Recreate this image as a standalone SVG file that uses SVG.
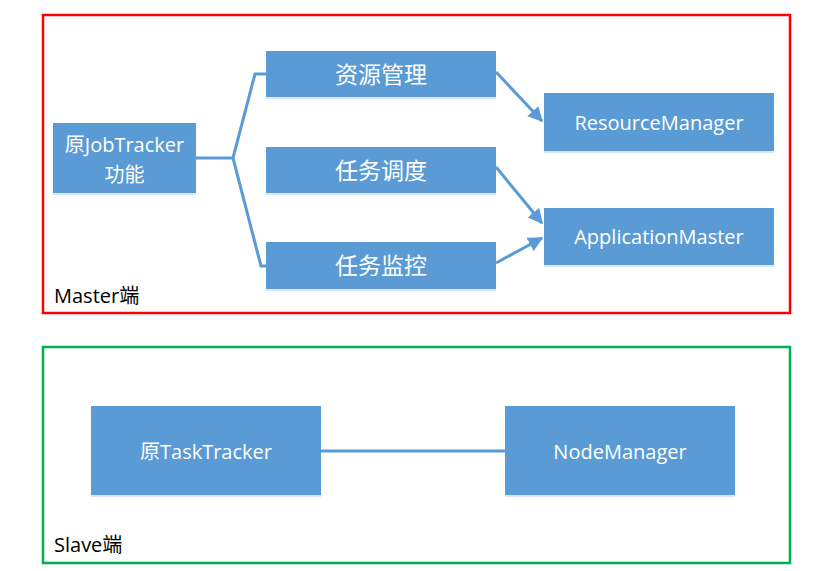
<svg xmlns="http://www.w3.org/2000/svg" width="831" height="571" viewBox="0 0 831 571">
<style>
.box{fill:#5B9BD5}
.sh{fill:#DCE6F2}
.t{fill:#fff;font-family:"Open Sans","Noto Sans CJK SC",sans-serif;font-size:20px;text-anchor:middle;dominant-baseline:central}
.cn{font-size:23px}
.c{fill:none;stroke:#5B9BD5;stroke-width:3}
.lbl{fill:#000;font-family:"Open Sans","Noto Sans CJK SC",sans-serif;font-size:20px}
</style>
<defs>
<marker id="ah" viewBox="0 0 10 10" refX="9" refY="5" markerWidth="5" markerHeight="5" markerUnits="strokeWidth" orient="auto">
<path d="M0,0 L10,5 L0,10 z" fill="#5B9BD5"/>
</marker>
</defs>
<rect width="831" height="571" fill="#fff"/>
<g id="master">
<rect x="43" y="15" width="747" height="298" fill="none" stroke="#FF0000" stroke-width="2.5"/>
<text class="lbl" x="54" y="303">Master端</text>
</g>
<g id="slave">
<rect x="43" y="347" width="747" height="216" fill="none" stroke="#00B050" stroke-width="2.5"/>
<text class="lbl" x="54" y="552">Slave端</text>
</g>
<g id="connectors">
<polyline class="c" points="196,158 233,158 255,74 266,74"/>
<polyline class="c" points="233,158 261,266 266,266"/>
<line class="c" x1="496" y1="72" x2="542" y2="121" marker-end="url(#ah)"/>
<line class="c" x1="496" y1="167" x2="542" y2="223" marker-end="url(#ah)"/>
<line class="c" x1="496" y1="263" x2="542" y2="238" marker-end="url(#ah)"/>
<line class="c" x1="321" y1="451" x2="505" y2="451"/>
</g>
<g id="jobtracker">
<rect class="sh" x="53" y="125" width="143" height="70"/>
<rect class="box" x="53" y="123" width="143" height="70"/>
<text class="t" x="124.5" y="144">原JobTracker</text>
<text class="t" x="124.5" y="174">功能</text>
</g>
<g id="ziyuan">
<rect class="sh" x="266" y="53" width="230" height="46"/>
<rect class="box" x="266" y="51" width="230" height="46"/>
<text class="t cn" x="381" y="74">资源管理</text>
</g>
<g id="diaodu">
<rect class="sh" x="266" y="149" width="230" height="46"/>
<rect class="box" x="266" y="147" width="230" height="46"/>
<text class="t cn" x="381" y="170">任务调度</text>
</g>
<g id="jiankong">
<rect class="sh" x="266" y="244" width="230" height="47"/>
<rect class="box" x="266" y="242" width="230" height="47"/>
<text class="t cn" x="381" y="265">任务监控</text>
</g>
<g id="rm">
<rect class="sh" x="544" y="95" width="230" height="58"/>
<rect class="box" x="544" y="93" width="230" height="58"/>
<text class="t" x="659" y="122">ResourceManager</text>
</g>
<g id="am">
<rect class="sh" x="544" y="210" width="230" height="57"/>
<rect class="box" x="544" y="208" width="230" height="57"/>
<text class="t" x="659" y="236">ApplicationMaster</text>
</g>
<g id="tasktracker">
<rect class="sh" x="91" y="408" width="230" height="89"/>
<rect class="box" x="91" y="406" width="230" height="89"/>
<text class="t" x="206" y="451">原TaskTracker</text>
</g>
<g id="nm">
<rect class="sh" x="505" y="408" width="230" height="89"/>
<rect class="box" x="505" y="406" width="230" height="89"/>
<text class="t" x="620" y="451">NodeManager</text>
</g>
</svg>
